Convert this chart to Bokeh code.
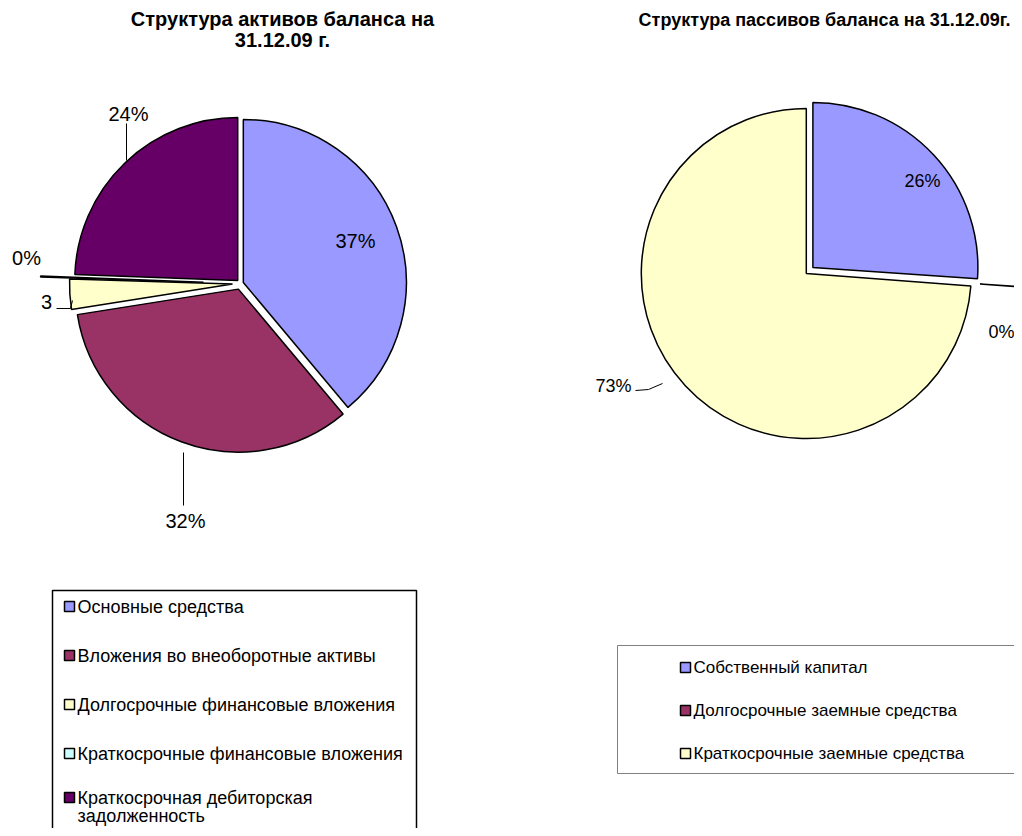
import math
import textwrap
from bokeh.plotting import figure
from bokeh.models import Range1d, ColumnDataSource
from bokeh.core.properties import value
from bokeh.embed import file_html
from bokeh.resources import INLINE

# ---------------- data ----------------
assets_title = ["Структура активов баланса на", "31.12.09 г."]
assets_categories = ["Основные средства", "Вложения во внеоборотные активы",
                     "Долгосрочные финансовые вложения", "Краткосрочные финансовые вложения",
                     "Краткосрочная дебиторская задолженность"]
assets_values = [38.9, 33.6, 3.0, 0.1, 24.4]
assets_labels = ["37%", "32%", "3", "0%", "24%"]
assets_colors = ["#9999FF", "#993366", "#FFFFCC", "#CCFFFF", "#660066"]

liab_title = "Структура пассивов баланса на 31.12.09г."
liab_categories = ["Собственный капитал", "Долгосрочные заемные средства", "Краткосрочные заемные средства"]
liab_values = [26.1, 0.1, 73.8]
liab_labels = ["26%", "0%", "73%"]
liab_colors = ["#9999FF", "#993366", "#FFFFCC"]

# ---------------- layout (picture px) ----------------
W, H = 1014, 828
def Y(ys):
    return H - ys

FONT = value("Liberation Sans")

p = figure(width=W, height=H, x_range=Range1d(0, W), y_range=Range1d(0, H),
           output_backend="svg", toolbar_location=None, min_border=0,
           x_axis_location=None, y_axis_location=None)
p.grid.visible = False
p.outline_line_color = None
p.background_fill_color = "white"
p.border_fill_color = "white"


def pie(values, colors, cx, cy, r, offsets):
    total = float(sum(values))
    xs, ys, sa, ea = [], [], [], []
    cum = 0.0
    for v, off in zip(values, offsets):
        t1 = cum / total * 360.0
        t2 = (cum + v) / total * 360.0
        tm = math.radians((t1 + t2) / 2)
        xs.append(cx + off * math.sin(tm))
        ys.append(Y(cy) + off * math.cos(tm))
        sa.append(math.radians(90 - t2))
        ea.append(math.radians(90 - t1))
        cum += v
    src = ColumnDataSource(dict(x=xs, y=ys, sa=sa, ea=ea, c=colors))
    p.wedge(x="x", y="y", radius=r, start_angle="sa", end_angle="ea",
            direction="anticlock", fill_color="c", line_color="black",
            line_width=1.5, source=src)


# left pie
pie(assets_values, assets_colors, 240, 283, 163, [3, 6, 8, 37, 4])
# right pie
pie(liab_values, liab_colors, 808, 271, 165, [6, 172, 3])

# titles
p.text(x=[282], y=[Y(18)], text=[assets_title[0]], text_font=FONT, text_font_size="20px",
       text_font_style="bold", text_align="center", text_baseline="middle")
p.text(x=[282], y=[Y(39)], text=[assets_title[1]], text_font=FONT, text_font_size="20px",
       text_font_style="bold", text_align="center", text_baseline="middle")
p.text(x=[824], y=[Y(19)], text=[liab_title], text_font=FONT, text_font_size="18px",
       text_font_style="bold", text_align="center", text_baseline="middle")

# data labels
a_lx = [355, 185, 46, 26, 128]
a_ly = [240, 520, 301, 257, 113]
p.text(x=a_lx, y=[Y(v) for v in a_ly], text=assets_labels, text_font=FONT,
       text_font_size="20px", text_align="center", text_baseline="middle")
l_lx = [922, 1001, 613]
l_ly = [180, 331, 385]
p.text(x=l_lx, y=[Y(v) for v in l_ly], text=liab_labels, text_font=FONT,
       text_font_size="18px", text_align="center", text_baseline="middle")

# leader lines
leaders = [
    ([126, 126], [123, 160]),
    ([183, 183], [452, 505]),
    ([56, 70, 72], [308, 308, 300]),
    ([635, 648, 662], [390, 389, 383]),
]
p.multi_line(xs=[l[0] for l in leaders], ys=[[Y(v) for v in l[1]] for l in leaders],
             line_color="black", line_width=1)

# left legend
p.quad(left=[52], right=[416], top=[Y(590)], bottom=[Y(850)], fill_color=None,
       line_color="black", line_width=1.5)
row_y = [606, 655, 704, 753, 797]
mx, my, tx, ty, tt = [], [], [], [], []
for i, cat in enumerate(assets_categories):
    yrow = row_y[i]
    mx.append(69)
    my.append(Y(yrow))
    for j, line in enumerate(textwrap.wrap(cat, 34)):
        tx.append(77)
        ty.append(Y(yrow + 18 * j))
        tt.append(line)
p.rect(x=mx, y=my, width=10, height=10, width_units="screen", height_units="screen",
       fill_color=assets_colors, line_color="black", line_width=1.5)
p.text(x=tx, y=ty, text=tt, text_font=FONT, text_font_size="18px",
       text_align="left", text_baseline="middle")

# right legend
p.quad(left=[617], right=[1040], top=[Y(645)], bottom=[Y(773)], fill_color=None,
       line_color="#808080", line_width=1)
rmy = [Y(667 + 43 * i) for i in range(len(liab_categories))]
p.rect(x=[685] * len(rmy), y=rmy, width=10, height=10, width_units="screen",
       height_units="screen", fill_color=liab_colors, line_color="black", line_width=1.5)
p.text(x=[693] * len(rmy), y=rmy, text=liab_categories, text_font=FONT, text_font_size="17px",
       text_align="left", text_baseline="middle")

open("out.html", "w").write(file_html(p, INLINE))
